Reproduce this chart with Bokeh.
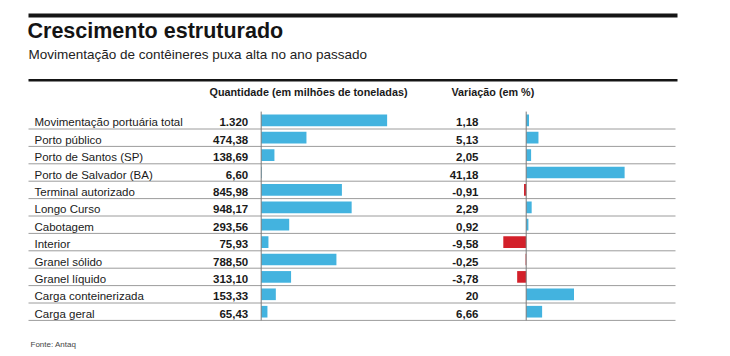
from bokeh.plotting import figure
from bokeh.models import Range1d
from bokeh.embed import file_html
from bokeh.resources import INLINE
from bokeh.core.properties import value

# ---------------- data ----------------
categorias = [
    "Movimentação portuária total",
    "Porto público",
    "Porto de Santos (SP)",
    "Porto de Salvador (BA)",
    "Terminal autorizado",
    "Longo Curso",
    "Cabotagem",
    "Interior",
    "Granel sólido",
    "Granel líquido",
    "Carga conteinerizada",
    "Carga geral",
]
quantidade = [1320, 474.38, 138.69, 6.60, 845.98, 948.17, 293.56, 75.93, 788.50, 313.10, 153.33, 65.43]
quantidade_rotulos = ["1.320", "474,38", "138,69", "6,60", "845,98", "948,17", "293,56", "75,93",
                      "788,50", "313,10", "153,33", "65,43"]
variacao = [1.18, 5.13, 2.05, 41.18, -0.91, 2.29, 0.92, -9.58, -0.25, -3.78, 20, 6.66]
variacao_rotulos = ["1,18", "5,13", "2,05", "41,18", "-0,91", "2,29", "0,92", "-9,58",
                    "-0,25", "-3,78", "20", "6,66"]

titulo = "Crescimento estruturado"
subtitulo = "Movimentação de contêineres puxa alta no ano passado"
cab_qtd = "Quantidade (em milhões de toneladas)"
cab_var = "Variação (em %)"
fonte = "Fonte: Antaq"

# ---------------- layout ----------------
W, H = 730, 356
ROW0, PITCH = 119.8, 17.4          # first row centre (px from top), row pitch
Q0, QS = 260.7, 0.0954             # quantity zero position, px per unit
V0, VS = 525.7, 2.39               # variation zero position, px per unit
BLUE = "#43b3df"
RED = "#d3202a"
FONT = value("Liberation Sans")

idx = list(range(len(categorias)))

p = figure(width=W, height=H, x_range=Range1d(0, W), y_range=Range1d(H, 0),
           output_backend="svg", toolbar_location=None, min_border=0,
           x_axis_type=None, y_axis_type=None, outline_line_color=None,
           background_fill_color="white", border_fill_color="white")
p.grid.visible = False
p.extra_x_ranges = {
    "qty": Range1d(-Q0 / QS, (W - Q0) / QS),
    "var": Range1d(-V0 / VS, (W - V0) / VS),
}
p.extra_y_ranges = {"rows": Range1d((H - ROW0) / PITCH, -ROW0 / PITCH)}

# heavy rules
p.quad(left=[28, 28], right=[677, 677], top=[13, 78.5], bottom=[17, 81],
       color="#151515", line_color=None)

# row separators
sep = [i + 0.5 for i in idx]
p.segment(x0=28, x1=675, y0=sep, y1=sep, y_range_name="rows",
          line_color="#9c9c9c", line_width=1)

# bars
p.hbar(y=idx, left=0, right=quantidade, height=0.67, x_range_name="qty",
       y_range_name="rows", fill_color=BLUE, line_color=None)
cores = [BLUE if v >= 0 else RED for v in variacao]
p.hbar(y=idx, left=0, right=variacao, height=0.67, x_range_name="var",
       y_range_name="rows", fill_color=cores, line_color=None)

# zero axes
p.segment(x0=0, x1=0, y0=-0.5, y1=11.5, x_range_name="qty", y_range_name="rows",
          line_color="#7a7a7a", line_width=1)
p.segment(x0=0, x1=0, y0=-0.5, y1=11.5, x_range_name="var", y_range_name="rows",
          line_color="#7a7a7a", line_width=1)

# row texts
p.text(x=34, y=idx, text=categorias, y_range_name="rows", y_offset=2.0,
       text_baseline="alphabetic", text_align="left", text_font=FONT,
       text_font_size="11.5px", text_color="#1a1a1a")
p.text(x=247.7, y=idx, text=quantidade_rotulos, y_range_name="rows", y_offset=2.0,
       text_baseline="alphabetic", text_align="right", text_font=FONT,
       text_font_size="11.5px", text_font_style="bold", text_color="#1a1a1a")
p.text(x=478, y=idx, text=variacao_rotulos, y_range_name="rows", y_offset=2.0,
       text_baseline="alphabetic", text_align="right", text_font=FONT,
       text_font_size="11.5px", text_font_style="bold", text_color="#1a1a1a")

# titles and headers
p.text(x=[27], y=[30.0], text=[titulo], text_baseline="alphabetic", text_font=FONT,
       text_font_size="21.5px", text_font_style="bold", text_color="#141414")
p.text(x=[28], y=[53.5], text=[subtitulo], text_baseline="alphabetic", text_font=FONT,
       text_font_size="13.5px", text_color="#222222")
p.text(x=[209, 451], y=[91.8, 91.8], text=[cab_qtd, cab_var], text_baseline="alphabetic",
       text_font=FONT, text_font_size="10.8px", text_font_style="bold", text_color="#1a1a1a")
p.text(x=[30], y=[343.5], text=[fonte], text_baseline="alphabetic", text_font=FONT,
       text_font_size="8px", text_color="#444444")

open("out.html", "w").write(file_html(p, INLINE))
